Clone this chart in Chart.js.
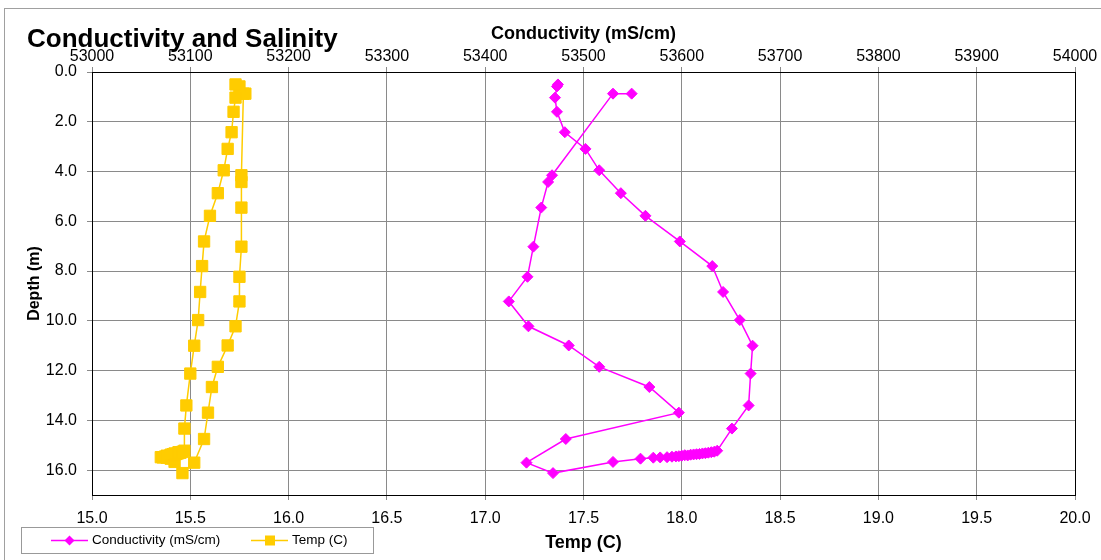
<!DOCTYPE html>
<html>
<head>
<meta charset="utf-8">
<title>Conductivity and Salinity</title>
<script src="https://cdn.jsdelivr.net/npm/chart.js@4.4.1/dist/chart.umd.min.js"></script>
<style>
  html, body { margin: 0; padding: 0; background: #fff; }
  #wrap { position: relative; width: 1101px; height: 560px; }
</style>
</head>
<body>
<div id="wrap"><canvas id="chart" width="1101" height="560"></canvas></div>
<script>
// profile readings, in the order they were logged (down, bottom hold, back up)
const depth = [
  0.87, 0.87, 4.15, 4.42, 5.45, 7.02, 8.23, 9.22, 10.22, 10.99, 11.85, 12.66, 13.69, 14.75,
  15.70, 16.12, 15.67, 15.54, 15.50,
  15.49, 15.48, 15.46, 15.45, 15.44, 15.42, 15.40, 15.41, 15.38, 15.37, 15.36, 15.35, 15.33,
  15.32, 15.30, 15.28, 15.26, 15.22,
  14.33, 13.40, 12.12, 11.00, 9.97, 8.84, 7.80, 6.81, 5.78, 4.87, 3.95, 3.09, 2.42, 1.60, 1.03, 0.58, 0.50
];
const conductivity = [
  53549, 53530, 53468, 53464, 53457, 53449, 53443, 53424, 53444, 53485, 53516, 53567, 53597, 53482,
  53442, 53469, 53530, 53558, 53571,
  53578, 53585, 53590, 53594, 53597, 53600, 53603, 53606, 53609, 53612, 53615, 53618, 53621,
  53624, 53627, 53630, 53633, 53636,
  53651, 53668, 53670, 53672, 53659, 53642, 53631, 53598, 53563, 53538, 53516, 53502, 53481, 53473, 53471, 53473, 53474
];
const temp = [
  15.78, 15.77, 15.76, 15.76, 15.76, 15.76, 15.75, 15.75, 15.73, 15.69, 15.64, 15.61, 15.59, 15.57,
  15.52, 15.46, 15.42, 15.40, 15.38,
  15.36, 15.35, 15.37, 15.38, 15.39, 15.38, 15.40, 15.41, 15.40, 15.42, 15.41, 15.43, 15.42,
  15.44, 15.45, 15.44, 15.46, 15.47,
  15.47, 15.48, 15.50, 15.52, 15.54, 15.55, 15.56, 15.57, 15.60, 15.64, 15.67, 15.69, 15.71, 15.72, 15.73, 15.75, 15.73
];

const condTicks = [53000, 53100, 53200, 53300, 53400, 53500, 53600, 53700, 53800, 53900, 54000];
const tempTicks = [15.0, 15.5, 16.0, 16.5, 17.0, 17.5, 18.0, 18.5, 19.0, 19.5, 20.0];
const depthTicks = [0, 2, 4, 6, 8, 10, 12, 14, 16];

const FONT = "'Liberation Sans', Arial, sans-serif";
const MAGENTA = '#ff00ff';
const GOLD = '#ffcc00';
const GRID = '#8a8a8a';

const condData = depth.map((d, i) => ({ x: conductivity[i], y: d }));
const tempData = depth.map((d, i) => ({ x: temp[i], y: d }));

// frame, big title and the boxed legend at the bottom left
const extras = {
  id: 'extras',
  afterDraw(chart) {
    const ctx = chart.ctx;
    const a = chart.chartArea;
    ctx.save();

    // outer frame
    ctx.strokeStyle = '#a0a0a0';
    ctx.lineWidth = 1;
    ctx.strokeRect(4.5, 8.5, 1110, 570);

    // plot frame
    ctx.strokeStyle = '#000';
    ctx.lineWidth = 1;
    ctx.strokeRect(Math.round(a.left) + 0.5, Math.round(a.top) + 0.5,
      Math.round(a.right - a.left), Math.round(a.bottom - a.top));

    // title
    ctx.fillStyle = '#000';
    ctx.font = 'bold 26px ' + FONT;
    ctx.textAlign = 'left';
    ctx.textBaseline = 'alphabetic';
    ctx.fillText('Conductivity and Salinity', 27, 47);

    // legend box
    ctx.fillStyle = '#fff';
    ctx.fillRect(21, 527, 352, 26);
    ctx.strokeStyle = '#999';
    ctx.strokeRect(21.5, 527.5, 352, 26);

    const cy = 540.5;
    // conductivity entry
    ctx.strokeStyle = MAGENTA;
    ctx.lineWidth = 1.5;
    ctx.beginPath(); ctx.moveTo(51, cy); ctx.lineTo(88, cy); ctx.stroke();
    ctx.fillStyle = MAGENTA;
    ctx.beginPath();
    ctx.moveTo(69.5, cy - 5); ctx.lineTo(74.5, cy); ctx.lineTo(69.5, cy + 5); ctx.lineTo(64.5, cy);
    ctx.closePath(); ctx.fill();
    // temp entry
    ctx.strokeStyle = GOLD;
    ctx.beginPath(); ctx.moveTo(251, cy); ctx.lineTo(288, cy); ctx.stroke();
    ctx.fillStyle = GOLD;
    ctx.fillRect(265, cy - 5, 10, 10);

    ctx.fillStyle = '#000';
    ctx.font = '13.5px ' + FONT;
    ctx.textBaseline = 'middle';
    ctx.fillText('Conductivity (mS/cm)', 92, cy);
    ctx.fillText('Temp (C)', 292, cy);
    ctx.restore();
  }
};

new Chart(document.getElementById('chart'), {
  type: 'scatter',
  data: {
    datasets: [
      {
        label: 'Conductivity (mS/cm)',
        data: condData,
        xAxisID: 'x2',
        yAxisID: 'y',
        showLine: true,
        borderColor: MAGENTA,
        backgroundColor: MAGENTA,
        borderWidth: 1.5,
        pointStyle: 'rectRot',
        pointRadius: 5.5,
        pointBorderWidth: 1,
        tension: 0
      },
      {
        label: 'Temp (C)',
        data: tempData,
        xAxisID: 'x',
        yAxisID: 'y',
        showLine: true,
        borderColor: GOLD,
        backgroundColor: GOLD,
        borderWidth: 1.5,
        pointStyle: 'rect',
        pointRadius: 8,
        pointBorderWidth: 1,
        tension: 0
      }
    ]
  },
  options: {
    responsive: false,
    animation: false,
    layout: { padding: { left: 0, right: 26, top: 0, bottom: 0 } },
    plugins: {
      legend: { display: false },
      tooltip: { enabled: false },
      title: { display: false }
    },
    scales: {
      x: {
        type: 'linear',
        position: 'bottom',
        min: 15, max: 20,
        afterBuildTicks: s => { s.ticks = tempTicks.map(v => ({ value: v })); },
        afterFit: s => { s.height = 65; },
        ticks: {
          color: '#000',
          font: { family: FONT, size: 16 },
          padding: 9,
          maxRotation: 0,
          callback: v => Number(v).toFixed(1)
        },
        grid: { color: GRID, tickLength: 5, tickColor: GRID },
        border: { color: '#000' },
        title: {
          display: true,
          text: 'Temp (C)',
          color: '#000',
          font: { family: FONT, size: 18, weight: 'bold' },
          padding: { top: 0, bottom: 6 }
        }
      },
      x2: {
        type: 'linear',
        position: 'top',
        min: 53000, max: 54000,
        afterBuildTicks: s => { s.ticks = condTicks.map(v => ({ value: v })); },
        afterFit: s => { s.height = 72; },
        ticks: {
          color: '#000',
          font: { family: FONT, size: 16 },
          padding: 1,
          maxRotation: 0,
          callback: v => String(v)
        },
        grid: { drawOnChartArea: false, tickLength: 5, tickColor: GRID },
        border: { color: '#000' },
        title: {
          display: true,
          text: 'Conductivity (mS/cm)',
          color: '#000',
          font: { family: FONT, size: 18, weight: 'bold' },
          padding: { top: 23, bottom: 0 }
        }
      },
      y: {
        type: 'linear',
        reverse: true,
        min: 0, max: 17,
        afterBuildTicks: s => { s.ticks = depthTicks.map(v => ({ value: v })); },
        afterFit: s => { s.width = 92; },
        ticks: {
          color: '#000',
          font: { family: FONT, size: 16 },
          padding: 10,
          callback: v => Number(v).toFixed(1)
        },
        grid: { color: GRID, tickLength: 5, tickColor: GRID },
        border: { color: '#000' },
        title: {
          display: true,
          text: 'Depth (m)',
          color: '#000',
          font: { family: FONT, size: 16, weight: 'bold' },
          padding: { top: 25, bottom: 0 }
        }
      }
    }
  },
  plugins: [extras]
});
</script>
</body>
</html>
